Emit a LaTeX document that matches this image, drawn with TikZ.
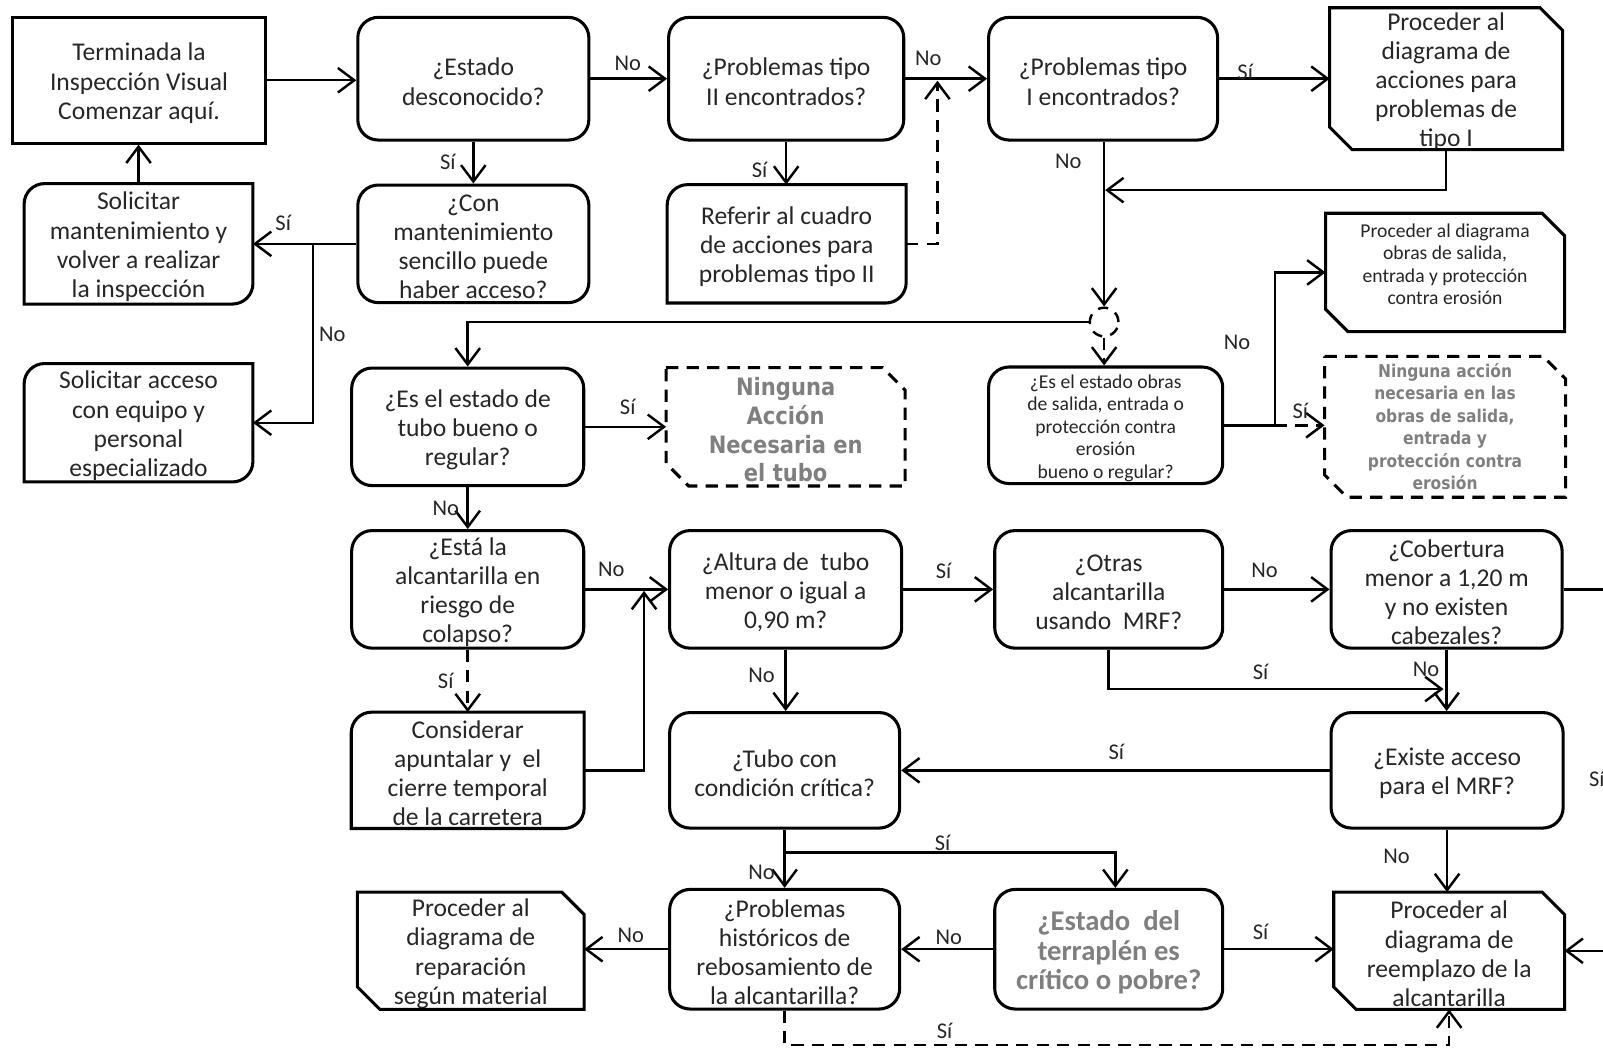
\documentclass[tikz,border=0pt]{standalone}
\usepackage{fontspec}
\setmainfont{Carlito}
\newfontfamily\verdfont{DejaVu Sans}[FakeStretch=0.88]
\usetikzlibrary{arrows.meta}
\definecolor{txt}{HTML}{262626}
\definecolor{graytxt}{HTML}{7F7F7F}
\tikzset{
  x=0.5pt, y=-0.5pt,
  frame/.style={inner sep=0pt},
  rbox/.style={frame, draw, line width=1.5pt, rounded corners=10pt},
  sbox/.style={frame, draw, line width=1.5pt},
  words/.style={inner sep=0pt, align=center, text=txt, font=\fontsize{12.5}{14.25}\selectfont},
  small/.style={font=\fontsize{9.6}{11}\selectfont},
  graybold/.style={text=graytxt, font=\verdfont\bfseries\fontsize{11.7}{14}\selectfont},
  graysmall/.style={text=graytxt, font=\verdfont\bfseries\fontsize{8.6}{11}\selectfont},
  graybig/.style={text=graytxt, font=\bfseries\fontsize{14}{14.25}\selectfont},
  conn/.style={line width=1.2pt, -{Straight Barb[length=8pt,width=12pt]}},
  dconn/.style={conn, dash pattern=on 6pt off 4pt},
  plain/.style={line width=1.2pt},
  lab/.style={text=txt, font=\fontsize{11}{12}\selectfont, inner sep=0pt},
  jn/.style={circle, draw, line width=1.2pt, dash pattern=on 5pt off 4pt, minimum size=14pt, inner sep=0pt},
}
% box placed by its corners: [frame style]{name}{x1}{y1}{x2}{y2}{text style}{text}
\newcommand\bx[8][frame]{%
  \node[#1, minimum width={(#5-#3)*0.5pt}, minimum height={(#6-#4)*0.5pt}] (#2) at ({(#3+#5)/2},{(#4+#6)/2}) {};
  \node[words,#7] (#2-t) at ([yshift=-1.5pt]#2.center) {#8};}
% outline with rounded top-left and bottom-right corners
\newcommand\halfround[1]{\draw[line width=1.5pt] ([yshift=-10pt]#1.north west) arc[start angle=180,end angle=90,radius=10pt] -- (#1.north east) -- ([yshift=10pt]#1.south east) arc[start angle=0,end angle=-90,radius=10pt] -- (#1.south west) -- cycle;}
% outline with cut top-right and bottom-left corners
\newcommand\chamf[2][]{\draw[line width=1.5pt,#1] (#2.north west) -- ([xshift=-11pt]#2.north east) -- ([yshift=-11pt]#2.north east) -- (#2.south east) -- ([xshift=11pt]#2.south west) -- ([yshift=11pt]#2.south west) -- cycle;}
\begin{document}
\begin{tikzpicture}
\useasboundingbox (0,0) rectangle (1568,1026);
\clip (0,0) rectangle (1568,1026);

% ---- boxes ----
\bx[sbox]{term}{12}{17}{260}{140}{}{Terminada la\\Inspección Visual\\Comenzar aquí.}
\bx[rbox]{estado}{350}{17}{576}{137}{}{¿Estado\\desconocido?}
\bx[rbox]{prob2}{654}{17}{884}{137}{}{¿Problemas tipo\\II encontrados?}
\bx[rbox]{prob1}{967}{17}{1191}{137}{}{¿Problemas tipo\\I encontrados?}
\bx{proc1}{1301}{8}{1528}{146}{}{Proceder al\\diagrama de\\acciones para\\problemas de\\tipo I}
\chamf{proc1}

\bx{solmant}{24}{180}{247}{297}{}{Solicitar\\mantenimiento y\\volver a realizar\\la inspección}
\halfround{solmant}
\bx[rbox]{conmant}{350}{181}{576}{296}{}{¿Con\\mantenimiento\\sencillo puede\\haber acceso?}
\bx{referir}{653}{181}{886}{296}{}{Referir al cuadro\\de acciones para\\problemas tipo II}
\halfround{referir}
\bx{procobras}{1297}{209}{1530}{324}{small}{Proceder al diagrama\\obras de salida,\\entrada y protección\\contra erosión\\~}
\chamf{procobras}

\bx{solacc}{24}{356}{247}{471}{}{Solicitar acceso\\con equipo y\\personal\\especializado}
\halfround{solacc}
\bx[rbox]{estubo}{344}{360}{571}{475}{}{¿Es el estado de\\tubo bueno o\\regular?}
\bx{ningtubo}{652}{360}{885}{475}{graybold}{Ninguna\\Acción\\Necesaria en\\el tubo}
\chamf[dash pattern=on 6pt off 4pt]{ningtubo}
\bx[rbox]{esobras}{967}{359}{1196}{473}{small}{¿Es el estado obras\\de salida, entrada o\\protección contra\\erosión\\bueno o regular?}
\bx{ningobras}{1296}{349}{1531}{486}{graysmall,yshift=1.5pt}{Ninguna acción\\necesaria en las\\obras de salida,\\entrada y\\protección contra\\erosión}
\chamf[dash pattern=on 6pt off 4pt]{ningobras}

\bx[rbox]{colapso}{344}{519}{571}{634}{}{¿Está la\\alcantarilla en\\riesgo de\\colapso?}
\bx[rbox]{altura}{655}{519}{882}{634}{}{¿Altura de\ \ tubo\\menor o igual a\\0,90 m?}
\bx[rbox]{otras}{973}{519}{1196}{634}{}{¿Otras\\alcantarilla\\usando\ \ MRF?}
\bx[rbox]{cobertura}{1302}{519}{1528}{634}{}{¿Cobertura\\menor a 1,20 m\\y no existen\\cabezales?}

\bx{considerar}{344}{697}{571}{810}{}{Considerar\\apuntalar y\ \ el\\cierre temporal\\de la carretera}
\halfround{considerar}
\bx[rbox]{critica}{655}{697}{880}{810}{}{¿Tubo con\\condición crítica?}
\bx[rbox]{acceso}{1302}{697}{1529}{810}{}{¿Existe acceso\\para el MRF?}

\bx{procrep}{350}{873}{571}{987}{}{Proceder al\\diagrama de\\reparación\\según material}
\chamf{procrep}
\bx[rbox]{historicos}{655}{870}{880}{987}{}{¿Problemas\\históricos de\\rebosamiento de\\la alcantarilla?}
\bx[rbox]{terraplen}{973}{870}{1196}{987}{graybig}{¿Estado\ \ del\\terraplén es\\crítico o pobre?}
\bx{procreemp}{1305}{873}{1530}{987}{}{Proceder al\\diagrama de\\reemplazo de la\\alcantarilla}
\chamf{procreemp}

\node[jn] (junc) at (1080,315) {};

% ---- helper points ----
\coordinate (rj) at (917,79);
\coordinate (p1r) at (1081,186);
\coordinate (ej) at (1247,416);
\coordinate (cj) at (306,238.5);
\coordinate (ca) at (630,578);
\coordinate (oc) at (1412,674);
\coordinate (cb) at (767.5,834);
\coordinate (hb) at (767.5,1022);
\coordinate (re) at (1600,576.5);

% ---- connectors ----
\draw[conn] (term.east) -- (term.east -| estado.west);
\draw[conn] (estado.east) -- (estado.east -| prob2.west);
\draw[conn] (prob2.east) -- (prob2.east -| prob1.west);
\draw[conn] (prob1.east) -- (prob1.east -| proc1.west);
\draw[conn] (estado.south) -- (estado.south |- conmant.north);
\draw[conn] (prob2.south) -- (prob2.south |- referir.north);
\draw[dconn] (referir.east) -| (rj);
\draw[conn] (junc |- prob1.south) -- (junc.north);
\draw[conn] (proc1.south) |- (p1r);
\draw[conn] (junc.west) -| (estubo.north);
\draw[dconn] (junc.south) -- (junc.south |- esobras.north);
\draw[plain] (esobras.east) -- (ej);
\draw[conn] (ej) |- (procobras.west);
\draw[dconn] (ej) -- (ej -| ningobras.west);
\draw[conn] (conmant.west) -- (conmant.west -| solmant.east);
\draw[conn] (cj) |- (solacc.east);
\draw[conn] (solmant.north) -- (solmant.north |- term.south);
\draw[conn] (estubo.east) -- (ningtubo.west);
\draw[conn] (estubo.south) -- (colapso.north);
\draw[conn] (colapso.east) -- (altura.west);
\draw[dconn] (colapso.south) -- (considerar.north);
\draw[conn] (considerar.east) -| (ca);
\draw[conn] (altura.east) -- (otras.west);
\draw[conn] (otras.east) -- (cobertura.west);
\draw[conn] (otras.south) |- (oc);
\draw[conn] (cobertura.south) -- (cobertura.south |- acceso.north);
\draw[conn] (acceso.west) -- (critica.east);
\draw[conn] (acceso.south) -- (acceso.south |- procreemp.north);
\draw[conn] (altura.south) -- (altura.south |- critica.north);
\draw[conn] (critica.south) -- (critica.south |- historicos.north);
\draw[conn] (cb) -| ([xshift=3.25pt]terraplen.north);
\draw[conn] (terraplen.west) -- (historicos.east);
\draw[conn] (terraplen.east) -- (terraplen.east -| procreemp.west);
\draw[conn] (historicos.west) -- (historicos.west -| procrep.east);
\draw[dconn] (historicos.south) -- (hb) -| (procreemp.south);
\draw[conn] (cobertura.east) -- (re) |- (procreemp.east);

% ---- connector labels ----
\node[lab] (l1) at (614,62) {No};
\node[lab] (l2) at (908,57) {No};
\node[lab] (l3) at (1218,70) {Sí};
\node[lab] (l4) at (438,158) {Sí};
\node[lab] (l5) at (743,166) {Sí};
\node[lab] (l6) at (1045,158) {No};
\node[lab] (l7) at (277,218) {Sí};
\node[lab] (l8) at (325,327) {No};
\node[lab] (l9) at (614,398) {Sí};
\node[lab] (l10) at (1210,335) {No};
\node[lab] (l11) at (1272,402) {Sí};
\node[lab] (l12) at (436,497) {No};
\node[lab] (l13) at (598,557) {No};
\node[lab] (l14) at (436,666) {Sí};
\node[lab] (l15) at (923,558) {Sí};
\node[lab] (l16) at (1237,558) {No};
\node[lab] (l17) at (1233,657) {Sí};
\node[lab] (l18) at (1395,655) {No};
\node[lab] (l19) at (745,661) {No};
\node[lab] (l20) at (1092,735) {Sí};
\node[lab] (l21) at (1562,762) {Sí};
\node[lab] (l22) at (1366,838) {No};
\node[lab] (l23) at (922,824) {Sí};
\node[lab] (l24) at (745,853) {No};
\node[lab] (l25) at (617,915) {No};
\node[lab] (l26) at (928,917) {No};
\node[lab] (l27) at (1233,912) {Sí};
\node[lab] (l28) at (924,1008) {Sí};
\end{tikzpicture}
\end{document}
